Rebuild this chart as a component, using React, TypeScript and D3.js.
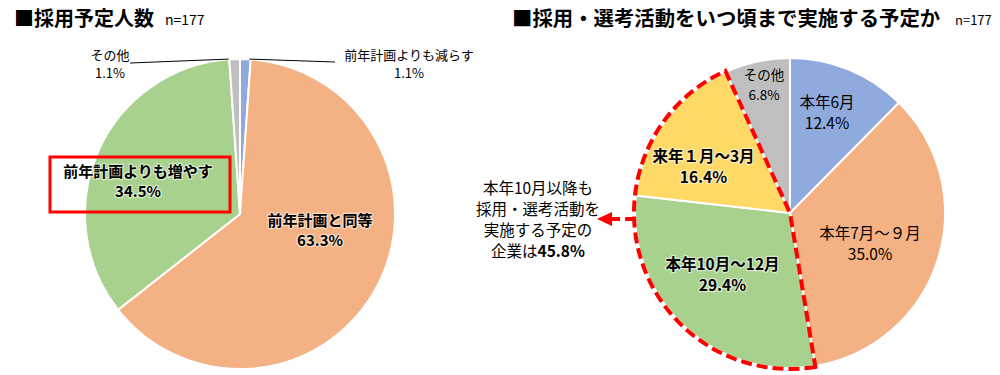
import React from "react";
import * as d3 from "d3";

const leftCategories = ["前年計画よりも減らす", "前年計画と同等", "前年計画よりも増やす", "その他"];
const leftValues = [1.1, 63.3, 34.5, 1.1];
const leftColors = ["#8FAADC", "#F4B183", "#A9D18E", "#BFBFBF"];

const rightCategories = ["本年6月", "本年7月～９月", "本年10月～12月", "来年１月～3月", "その他"];
const rightValues = [12.4, 35.0, 29.4, 16.4, 6.8];
const rightColors = ["#8FAADC", "#F4B183", "#A9D18E", "#FFD966", "#BFBFBF"];

const leftTitle = "■採用予定人数";
const rightTitle = "■採用・選考活動をいつ頃まで実施する予定か";
const sampleLabel = "n=177";
const noteLines = ["本年10月以降も", "採用・選考活動を", "実施する予定の", "企業は"];
const noteValue = "45.8%";

const FONT = "'Noto Sans CJK JP', 'Noto Sans', sans-serif";

// label layout (positions relative to pie center), per slice
const leftLabelLayout = [
  { x: 169, y: -154, size: 13, bold: false, gap: 18 },
  { x: 80, y: 12, size: 15, bold: true, gap: 20 },
  { x: -102, y: -37, size: 15, bold: true, gap: 20 },
  { x: -130, y: -154, size: 13, bold: false, gap: 18 },
];
const rightLabelLayout = [
  { x: 37, y: -105, size: 15.5, bold: false, gap: 21 },
  { x: 80, y: 26, size: 15.5, bold: false, gap: 21 },
  { x: -67.5, y: 57, size: 15.5, bold: true, gap: 21 },
  { x: -86.5, y: -51, size: 15.5, bold: true, gap: 21 },
  { x: -26, y: -133, size: 13.5, bold: false, gap: 20 },
];

const fmt = (v: number) => v.toFixed(1) + "%";

function Pie({ cx, cy, r, values, colors }: { cx: number; cy: number; r: number; values: number[]; colors: string[] }) {
  const pie = d3.pie<number>().sort(null).value((d) => d);
  const arc = d3.arc<d3.PieArcDatum<number>>().innerRadius(0).outerRadius(r);
  const arcs = pie(values);
  return (
    <g transform={`translate(${cx},${cy})`}>
      {arcs.map((a, i) => (
        <path key={i} d={arc(a) || ""} fill={colors[i]} stroke="#fff" strokeWidth={2} />
      ))}
    </g>
  );
}

const halo = { stroke: "#ffffff", strokeOpacity: 0.55, strokeWidth: 2.5, paintOrder: "stroke" as const, strokeLinejoin: "round" as const };

function Label({ lay, name, value }: { lay: any; name: string; value: number }) {
  const extra = lay.bold ? halo : {};
  return (
    <text fontWeight={lay.bold ? "bold" : "normal"} fontSize={lay.size} textAnchor="middle" fill="#000" {...extra}>
      <tspan x={lay.x} y={lay.y}>{name}</tspan>
      <tspan x={lay.x} y={lay.y + lay.gap}>{fmt(value)}</tspan>
    </text>
  );
}

export default function App() {
  const W = 1000, H = 375;
  const L = { cx: 240, cy: 214, r: 155 };
  const R = { cx: 790, cy: 213, r: 155 };

  const rightArcs = d3.pie<number>().sort(null).value((d) => d)(rightValues);
  const hiStart = rightArcs[2].startAngle;
  const hiEnd = rightArcs[3].endAngle;
  const hiArc = d3.arc()({ innerRadius: 0, outerRadius: R.r + 1, startAngle: hiStart, endAngle: hiEnd }) || "";

  const leftArcs = d3.pie<number>().sort(null).value((d) => d)(leftValues);
  const edgePt = (a: number, rr: number) => [Math.sin(a) * rr, -Math.cos(a) * rr];
  const blueMid = (leftArcs[0].startAngle + leftArcs[0].endAngle) / 2;
  const grayMid = (leftArcs[3].startAngle + leftArcs[3].endAngle) / 2;
  const bp = edgePt(blueMid, L.r);
  const gp = edgePt(grayMid, L.r);

  const arrowY = R.cy + 6;
  const arrowStartX = R.cx - Math.sqrt((R.r + 1) ** 2 - 6 * 6);

  return (
    <svg width={W} height={H} style={{ position: "absolute", left: 0, top: 0, fontFamily: FONT }}>
      <rect width={W} height={H} fill="#fff" />
      {/* titles */}
      <text x={14} y={26} fontSize={20} fontWeight="bold" fill="#000">{leftTitle}</text>
      <text x={165} y={25} fontSize={14} fill="#000">{sampleLabel}</text>
      <text x={512} y={26} fontSize={20.4} fontWeight="bold" fill="#000">{rightTitle}</text>
      <text x={955} y={25} fontSize={13} fill="#000">{sampleLabel}</text>

      {/* left pie */}
      <Pie cx={L.cx} cy={L.cy} r={L.r} values={leftValues} colors={leftColors} />
      <g transform={`translate(${L.cx},${L.cy})`}>
        <polyline points={`${bp[0] + 4},${bp[1]} ${95},${-152}`} fill="none" stroke="#000" strokeWidth={1} />
        <polyline points={`${gp[0] - 6},${gp[1]} ${-110},${-151}`} fill="none" stroke="#000" strokeWidth={1} />
        {leftCategories.map((c, i) => (
          <Label key={i} lay={leftLabelLayout[i]} name={c} value={leftValues[i]} />
        ))}
        <rect x={-190} y={-57} width={180} height={55} fill="none" stroke="#FF0000" strokeWidth={3} />
      </g>

      {/* right pie */}
      <Pie cx={R.cx} cy={R.cy} r={R.r} values={rightValues} colors={rightColors} />
      <g transform={`translate(${R.cx},${R.cy})`}>
        <path d={hiArc} fill="none" stroke="#FF0000" strokeWidth={4} strokeDasharray="11,5" />
        {rightCategories.map((c, i) => (
          <Label key={i} lay={rightLabelLayout[i]} name={c} value={rightValues[i]} />
        ))}
      </g>
      {/* arrow */}
      <line x1={arrowStartX} y1={arrowY} x2={612} y2={arrowY} stroke="#FF0000" strokeWidth={4} strokeDasharray="9,5" />
      <path d={`M597,${arrowY} L612,${arrowY - 7} L612,${arrowY + 7} Z`} fill="#FF0000" />
      {/* note */}
      <text fontSize={15.5} textAnchor="middle" fill="#000">
        {noteLines.slice(0, 3).map((t, i) => (
          <tspan key={i} x={538} y={194 + i * 21}>{t}</tspan>
        ))}
        <tspan x={538} y={194 + 3 * 21}>{noteLines[3]}</tspan>
        <tspan fontWeight="bold">{noteValue}</tspan>
      </text>
    </svg>
  );
}
